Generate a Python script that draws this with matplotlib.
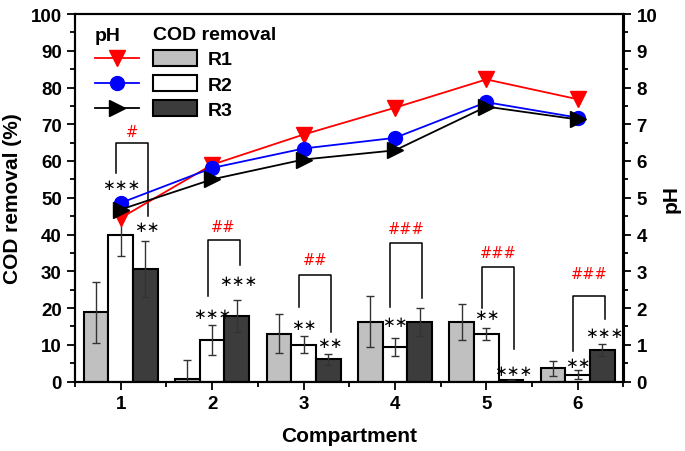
import matplotlib
matplotlib.use("Agg")
import matplotlib.pyplot as plt
import numpy as np
from matplotlib.lines import Line2D
from matplotlib.patches import Patch
from matplotlib.ticker import MultipleLocator

compartments = [1, 2, 3, 4, 5, 6]

# COD removal (%) and error
r1 = [18.8, 0.7, 13.0, 16.3, 16.2, 3.6]
r1_err = [8.3, 5.2, 5.3, 7.0, 5.0, 2.0]
r2 = [40.0, 11.3, 10.0, 9.4, 13.0, 1.8]
r2_err = [5.8, 4.0, 2.3, 2.4, 1.6, 1.2]
r3 = [30.7, 17.9, 6.0, 16.3, 0.4, 8.6]
r3_err = [7.6, 4.4, 1.6, 3.8, 0.0, 1.6]

# pH
ph_r1 = [4.45, 5.90, 6.72, 7.45, 8.22, 7.68]
ph_r2 = [4.86, 5.81, 6.34, 6.63, 7.60, 7.18]
ph_r3 = [4.68, 5.50, 6.04, 6.29, 7.48, 7.13]

# significance marks (label, height in COD units)
stars_r2 = ["∗∗∗", "∗∗∗", "∗∗", "∗∗", "∗∗", "∗∗"]
stars_r2_y = [53.5, 18.6, 15.4, 16.3, 18.2, 5.2]
stars_r3 = ["∗∗", "∗∗∗", "∗∗", "", "∗∗∗", "∗∗∗"]
stars_r3_y = [42.2, 27.5, 10.6, 0, 3.0, 13.2]
hashes = ["#", "##", "##", "###", "###", "###"]
hash_y = [68.0, 42.2, 33.2, 41.5, 35.0, 29.5]
bracket_top = [64.9, 38.4, 28.9, 37.7, 31.1, 23.4]
bracket_left = [56.7, 23.2, 20.2, 20.2, 20.0, 8.4]
bracket_right = [45.0, 31.8, 13.6, 22.7, 8.8, 17.0]

plt.rcParams["font.family"] = ["Liberation Sans", "DejaVu Sans"]
plt.rcParams["font.weight"] = "bold"

fig = plt.figure(figsize=(6.85, 4.52), dpi=100)
ax = fig.add_axes([75 / 685, 1 - 382.5 / 452, 548.5 / 685, 367.5 / 452])
ax2 = ax.twinx()

x = np.array(compartments, dtype=float)
w = 0.27
ekw = dict(ecolor="#333333", elinewidth=1.0, capsize=3, capthick=1.0)
ax.bar(x - w, r1, w, yerr=r1_err, color="#c0c0c0", edgecolor="black", linewidth=1.5, error_kw=ekw, label="R1")
ax.bar(x, r2, w, yerr=r2_err, color="white", edgecolor="black", linewidth=1.5, error_kw=ekw, label="R2")
ax.bar(x + w, r3, w, yerr=r3_err, color="#3c3c3c", edgecolor="black", linewidth=1.5, error_kw=ekw, label="R3")

for i, c in enumerate(x):
    xl, xr = c - 0.05, c + 0.3
    ax.plot([xl, xl, xr, xr], [bracket_left[i], bracket_top[i], bracket_top[i], bracket_right[i]],
            color="black", lw=1.1)
    ax.text((xl + xr) / 2, hash_y[i], hashes[i], color="red", fontsize=10.5, fontweight="normal",
            family="DejaVu Sans", ha="center", va="center")
    ax.text(c, stars_r2_y[i], stars_r2[i], fontsize=11, fontweight="normal",
            family="DejaVu Sans", ha="center", va="center")
    if stars_r3[i]:
        ax.text(c + 0.29, stars_r3_y[i], stars_r3[i], fontsize=11, fontweight="normal",
                family="DejaVu Sans", ha="center", va="center")

ax2.plot(x, ph_r1, color="red", marker="v", markersize=11, lw=1.3)
ax2.plot(x, ph_r2, color="blue", marker="o", markersize=10, lw=1.3)
ax2.plot(x, ph_r3, color="black", marker=">", markersize=11, lw=1.3)

ax.set_xlim(0.5, 6.5)
ax.set_ylim(0, 100)
ax2.set_ylim(0, 10)
ax.set_xticks(compartments)
ax.xaxis.set_minor_locator(MultipleLocator(0.5))
ax.yaxis.set_major_locator(MultipleLocator(10))
ax.yaxis.set_minor_locator(MultipleLocator(5))
ax2.yaxis.set_major_locator(MultipleLocator(1))
ax2.yaxis.set_minor_locator(MultipleLocator(0.5))

for a in (ax, ax2):
    a.tick_params(which="major", direction="out", length=6, width=1.3, labelsize=13.5)
    a.tick_params(which="minor", direction="out", length=3.5, width=1.3)
    for s in a.spines.values():
        s.set_linewidth(1.5)

ax.set_xlabel("Compartment", fontsize=15, fontweight="bold", labelpad=10)
ax.set_ylabel("COD removal (%)", fontsize=15, fontweight="bold", labelpad=6)
ax2.set_ylabel("pH", fontsize=15, fontweight="bold", labelpad=3)

ph_handles = [
    Line2D([], [], color="red", marker="v", markersize=11, lw=1.3),
    Line2D([], [], color="blue", marker="o", markersize=10, lw=1.3),
    Line2D([], [], color="black", marker=">", markersize=11, lw=1.3),
]
leg1 = ax2.legend(ph_handles, ["", "", ""], title="pH", loc="upper left",
                  bbox_to_anchor=(0.036, 0.965), frameon=False, borderpad=0, borderaxespad=0,
                  handlelength=2.26, handleheight=0.9, labelspacing=0.33, handletextpad=0,
                  prop={"weight": "bold", "size": 14},
                  title_fontproperties={"weight": "bold", "size": 14}, alignment="left")
cod_handles = [
    Patch(facecolor="#c0c0c0", edgecolor="black", linewidth=1.5),
    Patch(facecolor="white", edgecolor="black", linewidth=1.5),
    Patch(facecolor="#3c3c3c", edgecolor="black", linewidth=1.5),
]
leg2 = ax2.legend(cod_handles, ["R1", "R2", "R3"], title="COD removal", loc="upper left",
                  bbox_to_anchor=(0.142, 0.967), frameon=False, borderpad=0, borderaxespad=0,
                  handlelength=2.26, handleheight=0.9, labelspacing=0.33, handletextpad=0.57,
                  prop={"weight": "bold", "size": 14},
                  title_fontproperties={"weight": "bold", "size": 14}, alignment="left")
ax2.add_artist(leg1)

fig.savefig("out.png", dpi=100)
